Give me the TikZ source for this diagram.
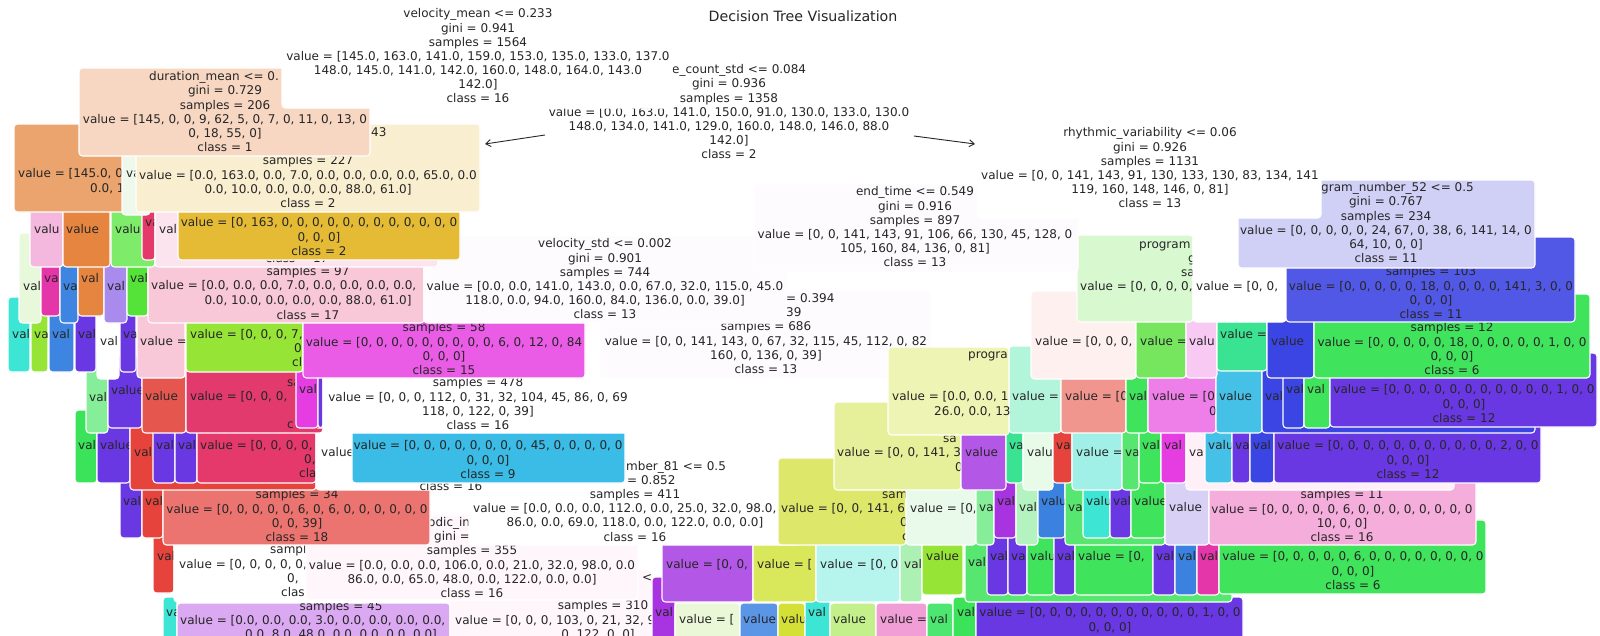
\documentclass[tikz,border=0pt]{standalone}
\usepackage{fontspec}
\setmainfont{DejaVu Sans}
\usetikzlibrary{arrows.meta}
\definecolor{txc}{HTML}{262626}
\definecolor{peach}{HTML}{F7D7C2}\definecolor{beige}{HTML}{F9EECF}\definecolor{orgL}{HTML}{EBA46E}
\definecolor{mint}{HTML}{EEF9EC}\definecolor{gold}{HTML}{E5BB35}\definecolor{pinkC}{HTML}{F4B8DF}
\definecolor{orng}{HTML}{E6853F}\definecolor{grnC}{HTML}{7FEB6B}\definecolor{crim}{HTML}{E5396B}
\definecolor{lpink}{HTML}{FCE4EE}\definecolor{lgbg}{HTML}{E8F8DA}\definecolor{magpk}{HTML}{E536A9}
\definecolor{blu3d}{HTML}{3D85E1}\definecolor{lav}{HTML}{A98BEE}\definecolor{grnD}{HTML}{55E339}
\definecolor{pinkQ}{HTML}{F8C8D8}\definecolor{cyan}{HTML}{3DE6D4}\definecolor{yg}{HTML}{96E536}
\definecolor{purp}{HTML}{6A38E3}\definecolor{mag}{HTML}{EA5CE6}\definecolor{redF}{HTML}{E5574E}
\definecolor{redG}{HTML}{E5433C}\definecolor{crimB}{HTML}{E33A6E}\definecolor{magB}{HTML}{E53DE1}
\definecolor{lgE}{HTML}{86EE98}\definecolor{grnB}{HTML}{3BE35A}\definecolor{cyanB}{HTML}{3ABCE6}
\definecolor{salmB}{HTML}{EB7470}\definecolor{lavB}{HTML}{DBA9F1}\definecolor{fpink}{HTML}{FEF6FA}
\definecolor{fwhite}{HTML}{FDFBFE}\definecolor{lavQ}{HTML}{D0D0F7}\definecolor{bluQ}{HTML}{5258E6}
\definecolor{grnprog}{HTML}{D8F8D0}\definecolor{pinkfaint}{HTML}{FEF0EF}\definecolor{grnS}{HTML}{76E65E}
\definecolor{pinkish}{HTML}{F7C9F3}\definecolor{seagrn}{HTML}{3AE391}\definecolor{bluB}{HTML}{3B45E3}
\definecolor{grnF}{HTML}{3FE35C}\definecolor{yprog}{HTML}{EEF4B4}\definecolor{seafoam}{HTML}{B3F5DA}
\definecolor{salmon}{HTML}{F0968F}\definecolor{orchid}{HTML}{EE7FE8}\definecolor{sky}{HTML}{45C0E6}
\definecolor{yelS}{HTML}{E6F09A}\definecolor{purL}{HTML}{B357E6}\definecolor{mintw}{HTML}{E8FAE8}
\definecolor{palecy}{HTML}{A0F0E8}\definecolor{grnT}{HTML}{57E670}\definecolor{pinkw}{HTML}{FFF0F8}
\definecolor{yelE}{HTML}{DDE86A}\definecolor{mintE}{HTML}{EAFAEA}\definecolor{lgBF}{HTML}{B4F2C0}
\definecolor{bluE}{HTML}{3B82E0}\definecolor{lavl}{HTML}{D8D0F5}\definecolor{pinkE}{HTML}{F5ADDB}
\definecolor{purA}{HTML}{A833E0}\definecolor{ygN}{HTML}{D9E85A}\definecolor{palecyB}{HTML}{B5F5EE}
\definecolor{lgAC}{HTML}{ACF0B4}\definecolor{lgEA}{HTML}{EAF8D8}\definecolor{bluF}{HTML}{5B95E6}
\definecolor{ygD}{HTML}{D4E035}\definecolor{lgC}{HTML}{C3F08A}\definecolor{pinkF}{HTML}{F19DD6}
\definecolor{grnQ}{HTML}{4DE670}
\tikzset{
  bxs/.style={anchor=north west, draw=white, line width=1.1pt, rounded corners=3.5pt, inner sep=0pt, outer sep=0pt},
  tbs/.style={anchor=north, align=center, inner sep=0pt, text=txc, font=\fontsize{12}{14.1}\selectfont},
  frs/.style={anchor=west, inner sep=0pt, text=txc, font=\fontsize{12}{14.1}\selectfont},
  arr/.style={draw=txc, line width=0.9pt, -{Straight Barb[length=5pt,width=7pt]}}
}
\newcommand{\BX}[6]{%
  \pgfmathsetmacro{\mybw}{#3-#2}\pgfmathsetmacro{\mybh}{#5-#4}%
  \node[bxs, fill=#6, minimum width=\mybw pt, minimum height=\mybh pt] (#1) at (#2,#4) {};}
\newcommand{\FR}[5]{%
  \begin{scope}\clip (#2.north west) rectangle (#2.south east);
  \node[frs] (#1) at (#3,#4) {\vphantom{[}#5};\end{scope}}
\newcommand{\TB}[5]{%
  \begin{scope}\clip (#2.north west) rectangle (#2.south east);
  \node[tbs] (#1) at (#3,{#4-5.35}) {\vphantom{[}#5};\end{scope}}
\begin{document}
\begin{tikzpicture}[x=1pt,y=-1pt]
\useasboundingbox (0,0) rectangle (1600,635);
\fill[white] (0,0) rectangle (1600,635);
% ---------------- depth 10
\BX{a1}{163}{177}{597}{650}{cyan}\FR{fa1}{a1}{166}{613}{va}
\BX{a2}{177}{450}{603}{650}{lavB}
\TB{ta2}{a2}{341}{607}{samples = 45}
\FR{fa2}{a2}{180}{621}{value = [0.0, 0.0, 0.0, 3.0, 0.0, 0.0, 0.0, 0.0,}
\TB{ta2b}{a2}{341}{635}{0.0, 8.0, 48.0, 0.0, 0.0, 0.0, 0.0]}
\BX{a3}{450}{652}{570}{680}{fpink}
\FR{fa3a}{a3}{642}{578}{<}
\TB{ta3}{a3}{603}{606}{samples = 310}
\FR{fa3b}{a3}{455}{621}{value = [0, 0, 0, 103, 0, 21, 32, 9}
\TB{ta3c}{a3}{598}{635}{0, 122, 0, 0]}
\BX{a4}{652}{675}{577}{650}{purA}\FR{fa4}{a4}{655}{613}{val}
\BX{a5}{675}{740}{603}{650}{lgEA}\FR{fa5}{a5}{679}{620}{value = [}
\BX{a6}{740}{778}{603}{650}{bluF}\FR{fa6}{a6}{743}{620}{value}
\BX{a7}{778}{805}{603}{650}{ygD}\FR{fa7}{a7}{781}{620}{valu}
\BX{a8}{805}{830}{597}{650}{cyan}\FR{fa8}{a8}{808}{613}{val}
\BX{a9}{830}{876}{603}{650}{lgC}\FR{fa9}{a9}{833}{620}{value}
\BX{a10}{876}{927}{603}{650}{pinkF}\FR{fa10}{a10}{880}{620}{value =}
\BX{a11}{927}{953}{603}{650}{grnQ}\FR{fa11}{a11}{930}{620}{val}
\BX{a12}{953}{976}{597}{650}{grnB}\FR{fa12}{a12}{957}{613}{val}
\BX{a13}{976}{1243}{597}{650}{purp}
\TB{ta13}{a13}{1110}{613}{value = [0, 0, 0, 0, 0, 0, 0, 0, 0, 0, 0, 1, 0, 0\\0, 0, 0]}
% ---------------- depth 9
\BX{b1}{153}{174}{527}{593}{redG}\FR{fb1}{b1}{157}{557}{val}
\BX{b2}{174}{306}{518}{602}{white}
\FR{fb2a}{b2}{270}{550}{sampl}\FR{fb2b}{b2}{179}{565}{value = [0, 0, 0, 0, 0,}
\FR{fb2c}{b2}{287}{579}{0,}\FR{fb2d}{b2}{281}{593}{clas}
\BX{b3}{306}{638}{515}{600}{fpink}
\FR{fb3a}{b3}{428}{523}{odic\_in}\FR{fb3b}{b3}{434}{537}{gini =}
\TB{tb3}{b3}{472}{551}{samples = 355\\value = [0.0, 0.0, 0.0, 106.0, 0.0, 21.0, 32.0, 98.0, 0.0\\86.0, 0.0, 65.0, 48.0, 0.0, 122.0, 0.0, 0.0]\\class = 16}
\BX{b4}{662}{753}{520}{602}{purL}\FR{fb4}{b4}{666}{565}{value = [0, 0,}
\BX{b5}{753}{816}{520}{602}{ygN}\FR{fb5}{b5}{757}{565}{value = [}
\BX{b6}{816}{900}{520}{602}{palecyB}\FR{fb6}{b6}{820}{565}{value = [0, 0}
\BX{b7}{900}{922}{520}{602}{lgAC}\FR{fb7}{b7}{904}{565}{val}
\BX{b8}{922}{963}{525}{595}{yg}\FR{fb8}{b8}{926}{557}{value}
\BX{b9}{965}{1232}{518}{602}{grnT}\FR{fb9}{b9}{968}{563}{val}
\BX{b10}{987}{1008}{525}{595}{purp}\FR{fb10}{b10}{990}{557}{val}
\BX{b11}{1008}{1027}{525}{595}{purp}\FR{fb11}{b11}{1011}{557}{va}
\BX{b12}{1027}{1054}{525}{595}{grnF}\FR{fb12}{b12}{1030}{557}{valu}
\BX{b13}{1054}{1075}{525}{595}{purp}\FR{fb13}{b13}{1057}{557}{val}
\BX{b14}{1075}{1153}{525}{595}{grnF}\FR{fb14}{b14}{1078}{557}{value = [0,}
\BX{b15}{1153}{1175}{525}{595}{purp}\FR{fb15}{b15}{1156}{557}{val}
\BX{b16}{1175}{1197}{525}{595}{bluE}\FR{fb16}{b16}{1178}{557}{val}
\BX{b17}{1197}{1219}{525}{595}{magpk}\FR{fb17}{b17}{1200}{557}{val}
\BX{b18}{1219}{1486}{520}{594}{grnF}
\TB{tb18}{b18}{1353}{557}{value = [0, 0, 0, 0, 0, 6, 0, 0, 0, 0, 0, 0, 0, 0\\0, 0, 0]\\class = 6}
% ---------------- depth 8
\BX{c1}{120}{142}{470}{538}{purp}\FR{fc1}{c1}{123}{502}{val}
\BX{c2}{142}{163}{470}{538}{redG}\FR{fc2}{c2}{145}{502}{val}
\BX{c3}{163}{430}{463}{545}{salmB}
\TB{tc3}{c3}{297}{495}{samples = 34\\value = [0, 0, 0, 0, 0, 6, 0, 6, 0, 0, 0, 0, 0, 0\\0, 0, 39]\\class = 18}
\BX{c4}{469}{801}{459}{545}{white}
\FR{fc4a}{c4}{626}{467}{mber\_81 <= 0.5}\FR{fc4b}{c4}{627}{481}{= 0.852}
\TB{tc4}{c4}{635}{495}{samples = 411}
\FR{fc4c}{c4}{473}{509}{value = [0.0, 0.0, 0.0, 112.0, 0.0, 25.0, 32.0, 98.0,}
\TB{tc4b}{c4}{635}{523}{86.0, 0.0, 69.0, 118.0, 0.0, 122.0, 0.0, 0.0]\\class = 16}
\BX{c5}{778}{906}{458}{545}{yelE}
\FR{fc5a}{c5}{882}{495}{sam}\FR{fc5b}{c5}{781}{509}{value = [0, 0, 141, 6,}
\FR{fc5c}{c5}{900}{523}{0}\FR{fc5d}{c5}{902}{537}{c}
\BX{c6}{906}{976}{463}{545}{mintE}\FR{fc6}{c6}{910}{509}{value = [0,}
\BX{c7}{976}{994}{463}{545}{lgE}\FR{fc7}{c7}{979}{508}{va}
\BX{c8}{994}{1016}{470}{538}{purA}\FR{fc8}{c8}{997}{502}{val}
\BX{c9}{1016}{1038}{463}{545}{lgBF}\FR{fc9}{c9}{1019}{508}{val}
\BX{c10}{1038}{1065}{470}{538}{bluE}\FR{fc10}{c10}{1041}{502}{valu}
\BX{c11}{1065}{1165}{463}{545}{grnT}\FR{fc11}{c11}{1068}{508}{va}
\BX{c12}{1083}{1110}{470}{538}{cyan}\FR{fc12}{c12}{1086}{502}{valu}
\BX{c13}{1110}{1131}{470}{538}{purp}\FR{fc13}{c13}{1113}{502}{val}
\BX{c14}{1131}{1165}{470}{538}{grnF}\FR{fc14}{c14}{1134}{502}{value}
\BX{c15}{1165}{1209}{463}{545}{lavl}\FR{fc15}{c15}{1169}{508}{value}
\BX{c16}{1209}{1476}{463}{545}{pinkE}
\TB{tc16}{c16}{1342}{495}{samples = 11\\value = [0, 0, 0, 0, 0, 6, 0, 0, 0, 0, 0, 0, 0, 0\\10, 0, 0]\\class = 16}
% ---------------- depth 7
\BX{d1}{75}{97}{410}{483}{grnB}\FR{fd1}{d1}{78}{446}{val}
\BX{d2}{97}{130}{413}{483}{purp}\FR{fd2}{d2}{100}{446}{value}
\BX{d3}{130}{316}{406}{490}{redG}\FR{fd3}{d3}{134}{453}{val}
\BX{d4}{153}{175}{413}{483}{purp}\FR{fd4}{d4}{156}{446}{val}
\BX{d5}{175}{197}{413}{483}{purp}\FR{fd5}{d5}{178}{446}{val}
\BX{d6}{197}{316}{413}{483}{crim}
\FR{fd6a}{d6}{200}{446}{value = [0, 0, 0, 0,}\FR{fd6b}{d6}{304}{460}{0,}\FR{fd6c}{d6}{299}{474}{cla}
\BX{d7}{316}{620}{406}{490}{white}\FR{fd7}{d7}{321}{453}{value}\TB{td7}{d7}{451}{487}{class = 16}
\BX{d8}{352}{625}{413}{483}{cyanB}
\TB{td8}{d8}{488}{446}{value = [0, 0, 0, 0, 0, 0, 0, 0, 45, 0, 0, 0, 0, 0\\0, 0, 0]\\class = 9}
\BX{d9}{834}{961}{402}{490}{yelS}
\FR{fd9a}{d9}{943}{439}{sa}\FR{fd9b}{d9}{837}{453}{value = [0, 0, 141, 3}\FR{fd9c}{d9}{955}{468}{0}
\BX{d10}{961}{1006}{406}{490}{purL}\FR{fd10}{d10}{965}{453}{value}
\BX{d11}{1006}{1023}{413}{483}{seagrn}\FR{fd11}{d11}{1009}{446}{va}
\BX{d12}{1023}{1053}{406}{490}{mintw}\FR{fd12}{d12}{1027}{453}{valu}
\BX{d13}{1053}{1072}{413}{483}{redG}\FR{fd13}{d13}{1056}{446}{va}
\BX{d14}{1072}{1122}{406}{490}{palecy}\FR{fd14}{d14}{1076}{453}{value =}
\BX{d15}{1122}{1139}{406}{490}{grnT}\FR{fd15}{d15}{1125}{453}{va}
\BX{d16}{1139}{1161}{413}{483}{grnF}\FR{fd16}{d16}{1142}{446}{val}
\BX{d17}{1161}{1186}{413}{483}{magB}\FR{fd17}{d17}{1164}{446}{val}
\BX{d18}{1186}{1454}{406}{490}{pinkw}\FR{fd18}{d18}{1189}{453}{va}
\BX{d19}{1205}{1232}{413}{483}{sky}\FR{fd19}{d19}{1208}{446}{valu}
\BX{d20}{1232}{1250}{413}{483}{purp}\FR{fd20}{d20}{1235}{446}{va}
\BX{d21}{1250}{1274}{413}{483}{bluB}\FR{fd21}{d21}{1253}{446}{val}
\BX{d22}{1274}{1541}{413}{483}{purp}
\TB{td22}{d22}{1408}{446}{value = [0, 0, 0, 0, 0, 0, 0, 0, 0, 0, 0, 2, 0, 0\\0, 0, 0]\\class = 12}
% ---------------- depth 6
\BX{e1}{86}{108}{351}{433}{lgE}\FR{fe1}{e1}{89}{398}{val}
\BX{e2}{108}{142}{356}{428}{purp}\FR{fe2}{e2}{111}{391}{value}
\BX{e3}{142}{186}{351}{433}{redF}\FR{fe3}{e3}{145}{397}{value}
\BX{e4}{186}{323}{351}{433}{crimB}
\FR{fe4a}{e4}{287}{383}{sa}\FR{fe4b}{e4}{190}{397}{value = [0, 0, 0,}\FR{fe4c}{e4}{287}{425}{c}
\BX{e5}{296}{318}{356}{428}{magB}\FR{fe5}{e5}{299}{390}{val}
\BX{e6}{318}{323}{356}{428}{purp}
\BX{e7}{323}{631}{351}{433}{white}
\TB{te7}{e7}{478}{383}{samples = 478\\value = [0, 0, 0, 112, 0, 31, 32, 104, 45, 86, 0, 69\\118, 0, 122, 0, 39]\\class = 16}
\BX{e9}{1009}{1061}{346}{433}{seafoam}\FR{fe9}{e9}{1012}{397}{value =}
\BX{e10}{1061}{1126}{351}{433}{salmon}\FR{fe10}{e10}{1065}{397}{value = [0}
\BX{e11}{1126}{1148}{351}{433}{grnF}\FR{fe11}{e11}{1129}{397}{val}
\BX{e12}{1148}{1216}{351}{433}{orchid}\FR{fe12a}{e12}{1152}{397}{value = [0}\FR{fe12b}{e12}{1209}{412}{0}
\BX{e13}{1216}{1262}{351}{433}{sky}\FR{fe13}{e13}{1219}{397}{value}
\BX{e14}{1262}{1535}{352}{433}{bluB}\FR{fe14}{e14}{1265}{397}{val}
\BX{e15}{1283}{1304}{356}{428}{bluB}\FR{fe15}{e15}{1286}{390}{val}
\BX{e16}{1304}{1330}{356}{428}{grnF}\FR{fe16}{e16}{1307}{390}{val}
\BX{e17}{1330}{1597}{353}{427}{purp}
\TB{te17}{e17}{1464}{390}{value = [0, 0, 0, 0, 0, 0, 0, 0, 0, 0, 0, 1, 0, 0\\0, 0, 0]\\class = 12}
% ---------------- depth 5
\BX{g1}{8}{30}{297}{372}{cyan}\FR{fg1}{g1}{12}{335}{val}
\BX{g2}{31}{48}{300}{372}{yg}\FR{fg2}{g2}{34}{335}{va}
\BX{g3}{49}{74}{300}{372}{blu3d}\FR{fg3}{g3}{52}{335}{val}
\BX{g4}{75}{96}{300}{372}{purp}\FR{fg4}{g4}{78}{335}{val}
\BX{g5}{97}{119}{293}{379}{white}\FR{fg5}{g5}{100}{342}{val}
\BX{g6}{120}{136}{300}{372}{purp}\FR{fg6}{g6}{123}{335}{va}
\BX{g7}{137}{185}{294}{378}{pinkQ}\FR{fg7}{g7}{140}{342}{value =}
\BX{g8}{186}{303}{300}{372}{yg}
\FR{fg8a}{g8}{190}{335}{value = [0, 0, 0, 7,}\FR{fg8b}{g8}{294}{349}{0}\FR{fg8c}{g8}{292}{363}{cl}
\BX{g9}{303}{585}{294}{378}{mag}
\TB{tg9}{g9}{444}{328}{samples = 58\\value = [0, 0, 0, 0, 0, 0, 0, 0, 0, 6, 0, 12, 0, 84\\0, 0, 0]\\class = 15}
\BX{g10}{600}{931}{291}{378}{fwhite}
\FR{fg10a}{g10}{786}{299}{= 0.394}\FR{fg10b}{g10}{786}{313}{39}
\TB{tg10}{g10}{766}{327}{samples = 686\\value = [0, 0, 141, 143, 0, 67, 32, 115, 45, 112, 0, 82\\160, 0, 136, 0, 39]\\class = 13}
\BX{g11}{888}{1009}{347}{435}{yprog}
\FR{fg11a}{g11}{968}{355}{progra}\FR{fg11b}{g11}{892}{397}{value = [0.0, 0.0, 1}\FR{fg11c}{g11}{934}{412}{26.0, 0.0, 13}
\BX{g12}{1031}{1136}{291}{379}{pinkfaint}\FR{fg12}{g12}{1035}{342}{value = [0, 0, 0,}
\BX{g13}{1136}{1186}{294}{378}{grnS}\FR{fg13}{g13}{1140}{342}{value =}
\BX{g14}{1186}{1217}{294}{378}{pinkish}\FR{fg14}{g14}{1189}{342}{valu}
\BX{g15}{1217}{1267}{300}{371}{seagrn}\FR{fg15}{g15}{1220}{335}{value =}
\BX{g16}{1267}{1314}{294}{378}{bluB}\FR{fg16}{g16}{1271}{342}{value}
\BX{g17}{1314}{1590}{294}{378}{grnF}
\TB{tg17}{g17}{1452}{328}{samples = 12\\value = [0, 0, 0, 0, 0, 18, 0, 0, 0, 0, 0, 1, 0, 0\\0, 0, 0]\\class = 6}
% ---------------- depth 4
\BX{h1}{19}{41}{233}{323}{lgbg}\FR{fh1}{h1}{23}{287}{val}
\BX{h2}{41}{60}{244}{316}{magpk}\FR{fh2}{h2}{44}{279}{va}
\BX{h3}{60}{78}{237}{323}{blu3d}\FR{fh3}{h3}{63}{287}{va}
\BX{h4}{78}{104}{244}{316}{orng}\FR{fh4}{h4}{81}{279}{val}
\BX{h5}{104}{127}{237}{323}{lav}\FR{fh5}{h5}{107}{287}{val}
\BX{h6}{127}{148}{244}{316}{grnD}\FR{fh6}{h6}{130}{279}{val}
\BX{h7}{148}{424}{237}{323}{pinkQ}
\TB{th7}{h7}{308}{272}{samples = 97}
\FR{fh7}{h7}{151}{286}{value = [0.0, 0.0, 0.0, 7.0, 0.0, 0.0, 0.0, 0.0,}
\TB{th7b}{h7}{308}{301}{0.0, 10.0, 0.0, 0.0, 0.0, 88.0, 61.0]\\class = 17}
\BX{h8}{424}{786}{236}{323}{fwhite}
\TB{th8}{h8}{605}{244}{velocity\_std <= 0.002\\gini = 0.901\\samples = 744\\value = [0.0, 0.0, 141.0, 143.0, 0.0, 67.0, 32.0, 115.0, 45.0\\118.0, 0.0, 94.0, 160.0, 84.0, 136.0, 0.0, 39.0]\\class = 13}
\BX{h9}{1077}{1193}{235}{322}{grnprog}
\FR{fh9a}{h9}{1139}{245}{program}\FR{fh9b}{h9}{1188}{259}{g}\FR{fh9c}{h9}{1181}{273}{sa}
\FR{fh9d}{h9}{1080}{287}{value = [0, 0, 0, 0,}
\BX{h10}{1193}{1286}{237}{322}{white}\FR{fh10}{h10}{1196}{287}{value = [0, 0,}
\BX{h11}{1286}{1575}{237}{322}{bluQ}
\TB{th11}{h11}{1431}{272}{samples = 103\\value = [0, 0, 0, 0, 0, 18, 0, 0, 0, 0, 141, 3, 0, 0\\0, 0, 0]\\class = 11}
% ---------------- depth 3
\BX{i1}{30}{63}{181}{267}{pinkC}\FR{fi1}{i1}{34}{230}{valu}
\BX{i2}{63}{110}{181}{267}{orng}\FR{fi2}{i2}{66}{230}{value}
\BX{i3}{111}{155}{181}{267}{grnC}\FR{fi3}{i3}{115}{230}{valu}
\BX{i4}{142}{155}{188}{260}{crim}\FR{fi4}{i4}{145}{223}{va}
\BX{i5}{155}{438}{181}{267}{lpink}\FR{fi5}{i5}{159}{230}{val}\TB{ti5}{i5}{297}{259}{class = 17}
\BX{i6}{178}{460}{188}{260}{gold}
\TB{ti6}{i6}{319}{223}{value = [0, 163, 0, 0, 0, 0, 0, 0, 0, 0, 0, 0, 0, 0\\0, 0, 0]\\class = 2}
\BX{i7}{754}{1078}{184}{272}{fwhite}
\TB{ti7}{i7}{915}{192}{end\_time <= 0.549\\gini = 0.916\\samples = 897\\value = [0, 0, 141, 143, 91, 106, 66, 130, 45, 128, 0\\105, 160, 84, 136, 0, 81]\\class = 13}
\BX{i8}{1238}{1535}{180}{268}{lavQ}
\FR{fi8}{i8}{1321}{188}{gram\_number\_52 <= 0.5}
\TB{ti8}{i8}{1386}{202}{gini = 0.767\\samples = 234\\value = [0, 0, 0, 0, 0, 24, 67, 0, 38, 6, 141, 14, 0\\64, 10, 0, 0]\\class = 11}
% ---------------- depth 2
\BX{j1}{14}{140}{124}{212}{orgL}\FR{fj1a}{j1}{18}{174}{value = [145.0, 0}\FR{fj1b}{j1}{90}{189}{0.0, 1}
\BX{j2}{122}{150}{124}{215}{mint}\FR{fj2}{j2}{126}{174}{va}
\BX{j3}{136}{480}{124}{212}{beige}\FR{fj3}{j3}{371}{133}{43}
\TB{tj3}{j3}{308}{161}{samples = 227\\value = [0.0, 163.0, 0.0, 7.0, 0.0, 0.0, 0.0, 0.0, 65.0, 0.0\\0.0, 10.0, 0.0, 0.0, 0.0, 88.0, 61.0]\\class = 2}
\BX{j4}{977}{1321}{120}{218}{white}
\TB{tj4}{j4}{1150}{133}{rhythmic\_variability <= 0.06\\gini = 0.926\\samples = 1131\\value = [0, 0, 141, 143, 91, 130, 133, 130, 83, 134, 141\\119, 160, 148, 146, 0, 81]\\class = 13}
% ---------------- depth 1
\BX{k1}{79}{370}{68}{156}{peach}\FR{fk1}{k1}{149}{77}{duration\_mean <= 0.}
\TB{tk1}{k1}{225}{91}{gini = 0.729\\samples = 206\\value = [145, 0, 0, 9, 62, 5, 0, 7, 0, 11, 0, 13, 0\\0, 18, 55, 0]\\class = 1}
\BX{k2}{545}{914}{62}{163}{white}\FR{fk2}{k2}{672}{70}{e\_count\_std <= 0.084}
\TB{tk2}{k2}{729}{84}{gini = 0.936\\samples = 1358\\value = [0.0, 163.0, 141.0, 150.0, 91.0, 130.0, 133.0, 130.0\\148.0, 134.0, 141.0, 129.0, 160.0, 148.0, 146.0, 88.0\\142.0]\\class = 2}
% ---------------- root
\BX{r0}{282}{672}{-10}{108}{white}
\TB{tr0}{r0}{478}{14}{velocity\_mean <= 0.233\\gini = 0.941\\samples = 1564\\value = [145.0, 163.0, 141.0, 159.0, 153.0, 135.0, 133.0, 137.0\\148.0, 145.0, 141.0, 142.0, 160.0, 148.0, 164.0, 143.0\\142.0]\\class = 16}
% ---------------- title and arrows
\node[text=txc, font=\fontsize{14.2}{17}\selectfont, inner sep=0pt] (title) at (803,16) {Decision Tree Visualization};
\draw[arr] ([yshift=-22.5pt]k2.west) -- ([xshift=5pt,yshift=-20pt]j3.north east);
\draw[arr] ([yshift=-23.5pt]k2.east) -- ([xshift=-2pt,yshift=-24pt]j4.north west);
\end{tikzpicture}
\end{document}
